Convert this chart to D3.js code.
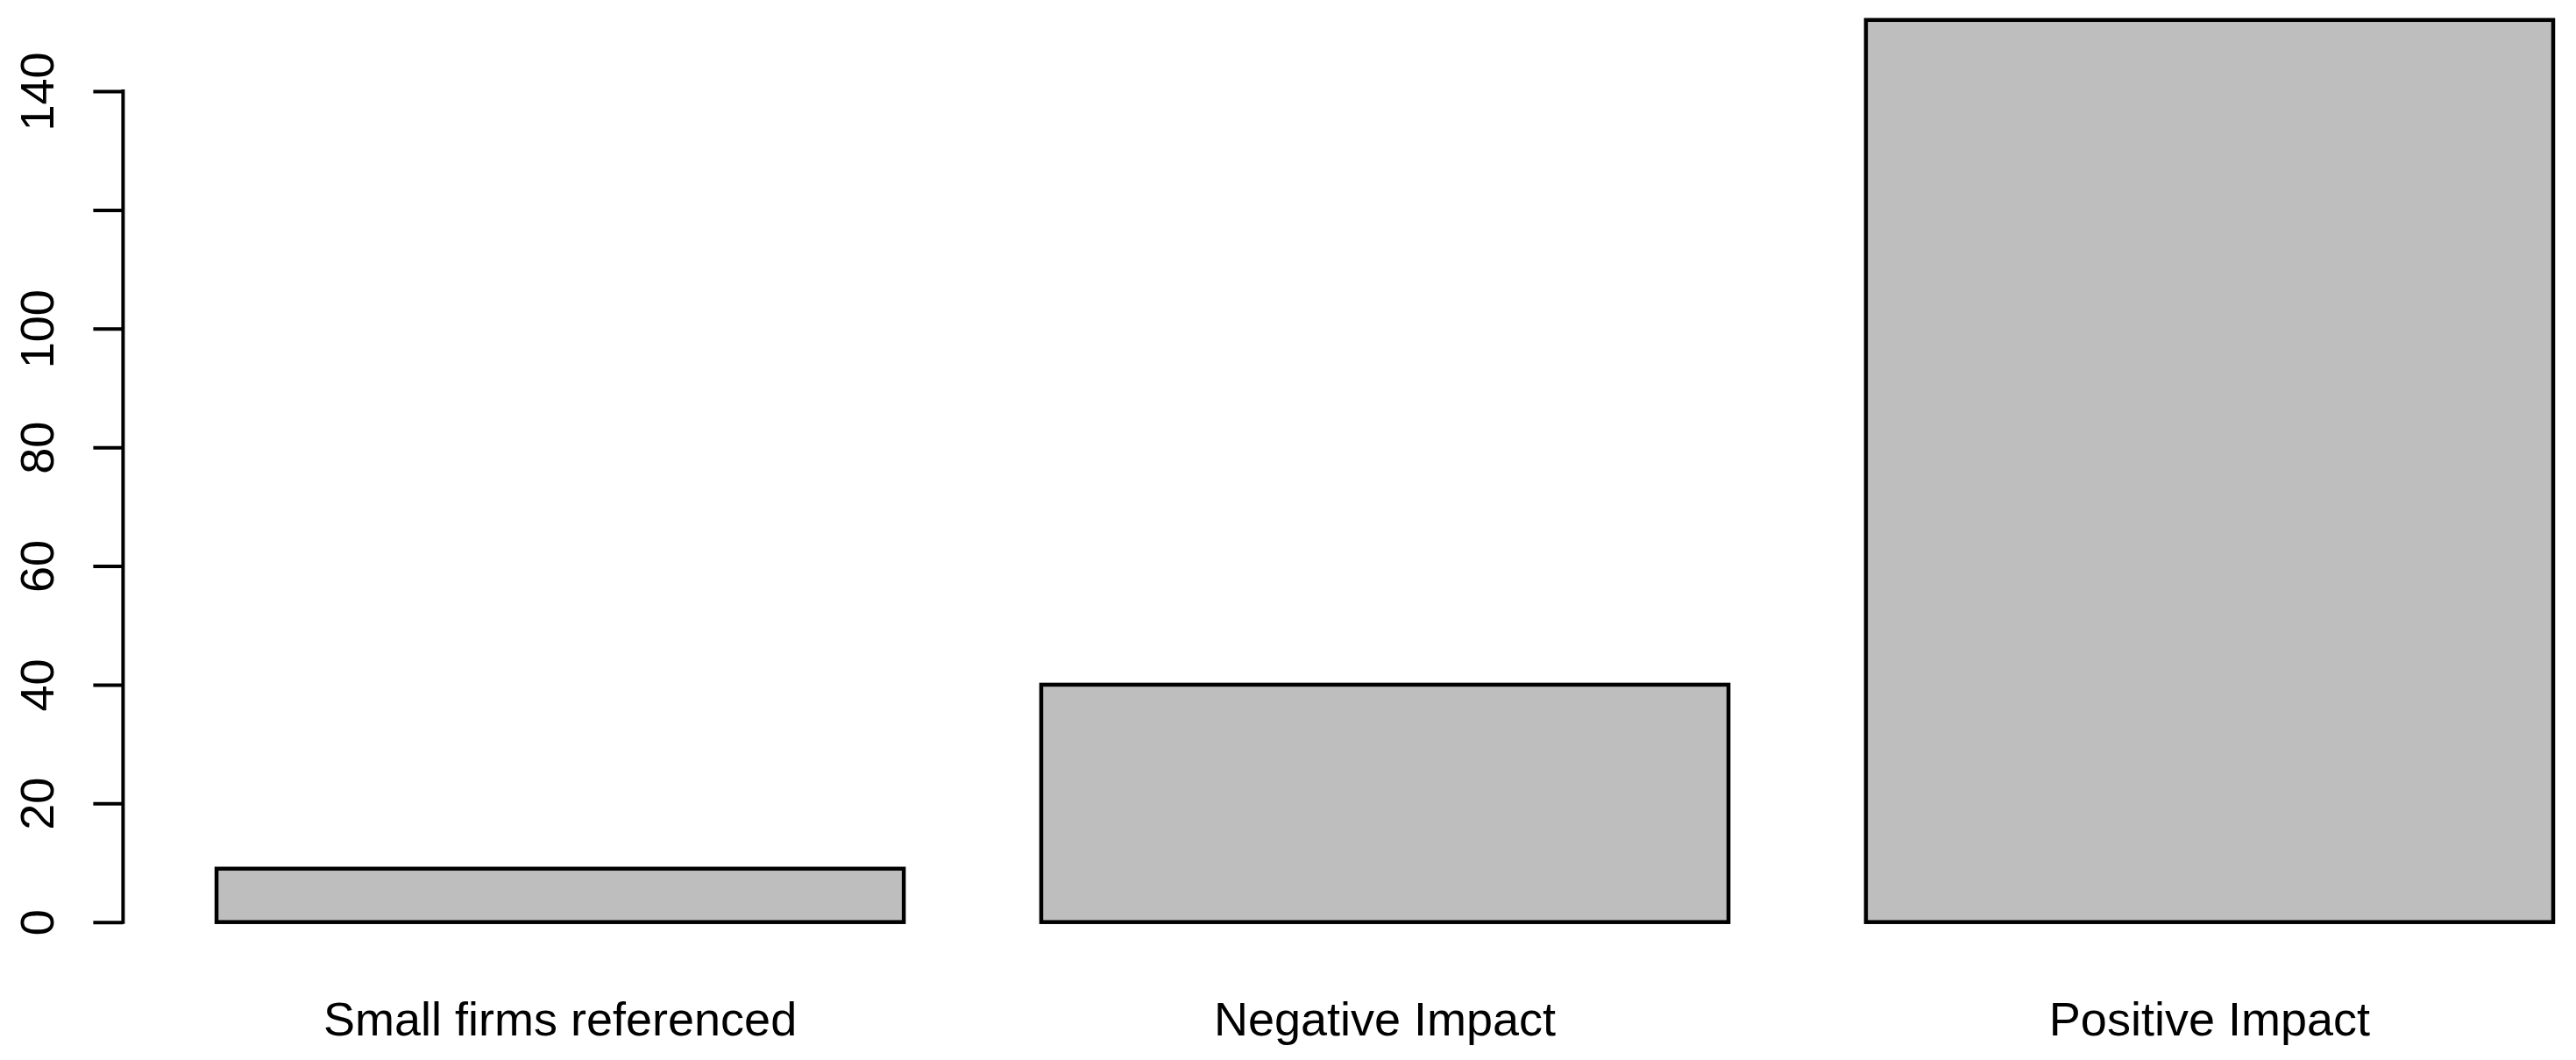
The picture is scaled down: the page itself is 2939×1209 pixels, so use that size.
<!DOCTYPE html>
<html>
<head>
<meta charset="utf-8">
<script src="https://cdn.jsdelivr.net/npm/d3@7"></script>
<style>
  html, body { margin: 0; padding: 0; background: #ffffff; }
  svg { display: block; }
  text { font-family: "Liberation Sans", Arial, sans-serif; }
</style>
</head>
<body>
<svg id="chart" width="2939" height="1209"></svg>
<script>
// ---- data ----
const categories = ["Small firms referenced", "Negative Impact", "Positive Impact"];
const values = [9, 40, 152];
const tickValues = [0, 20, 40, 60, 80, 100, 120, 140];
const tickLabels = ["0", "20", "40", "60", "80", "100", "", "140"];

// ---- layout (R barplot style: width 1, space 0.2, 4% axis extension) ----
const W = 2939, H = 1209;
const svg = d3.select("#chart");
svg.append("rect").attr("width", W).attr("height", H).attr("fill", "#ffffff");

const barW = 1, space = 0.2;
const lefts = values.map((d, i) => space + i * (barW + space));
const xMin = lefts[0], xMax = lefts[lefts.length - 1] + barW;
const xExt = (xMax - xMin) * 0.04;
const yMaxV = d3.max(values);
const yExt = yMaxV * 0.04;

const x = d3.scaleLinear()
  .domain([xMin - xExt, xMax + xExt])
  .range([140.4, 140.4 + (xMax - xMin + 2 * xExt) * 784.1]);

const pxPerUnit = (1051.7 - 104) / 140;
const y = d3.scaleLinear()
  .domain([-yExt, yMaxV + yExt])
  .range([1051.7 + yExt * pxPerUnit, 1051.7 - (yMaxV + yExt) * pxPerUnit]);

// bars
svg.append("g").selectAll("rect")
  .data(values)
  .join("rect")
  .attr("x", (d, i) => x(lefts[i]))
  .attr("width", (d, i) => x(lefts[i] + barW) - x(lefts[i]))
  .attr("y", d => y(d))
  .attr("height", d => y(0) - y(d))
  .attr("fill", "#bebebe")
  .attr("stroke", "#000000")
  .attr("stroke-width", 4.5);

// y axis
const axisX = x(xMin - xExt);
const yAxis = d3.axisLeft(y)
  .tickValues(tickValues)
  .tickSize(34)
  .tickPadding(0)
  .tickFormat((d, i) => tickLabels[i]);

const gy = svg.append("g")
  .attr("transform", `translate(${axisX},0)`)
  .call(yAxis);
gy.select(".domain").remove();
gy.selectAll(".tick line")
  .attr("stroke", "#000000")
  .attr("stroke-width", 4);
gy.selectAll(".tick text")
  .attr("x", null).attr("dy", null)
  .attr("transform", "translate(-79,0) rotate(-90)")
  .attr("text-anchor", "middle")
  .attr("fill", "#000000")
  .style("font-size", "54px")
  .style("font-family", "'Liberation Sans', Arial, sans-serif");
gy.append("line")
  .attr("x1", 0).attr("x2", 0)
  .attr("y1", y(tickValues[0]))
  .attr("y2", y(tickValues[tickValues.length - 1]))
  .attr("stroke", "#000000")
  .attr("stroke-width", 4)
  .attr("stroke-linecap", "square");

// category labels
svg.append("g").selectAll("text")
  .data(categories)
  .join("text")
  .attr("x", (d, i) => x(lefts[i] + barW / 2))
  .attr("y", y(0) + 129.5)
  .attr("text-anchor", "middle")
  .attr("fill", "#000000")
  .style("font-size", "54px")
  .text(d => d);
</script>
</body>
</html>
